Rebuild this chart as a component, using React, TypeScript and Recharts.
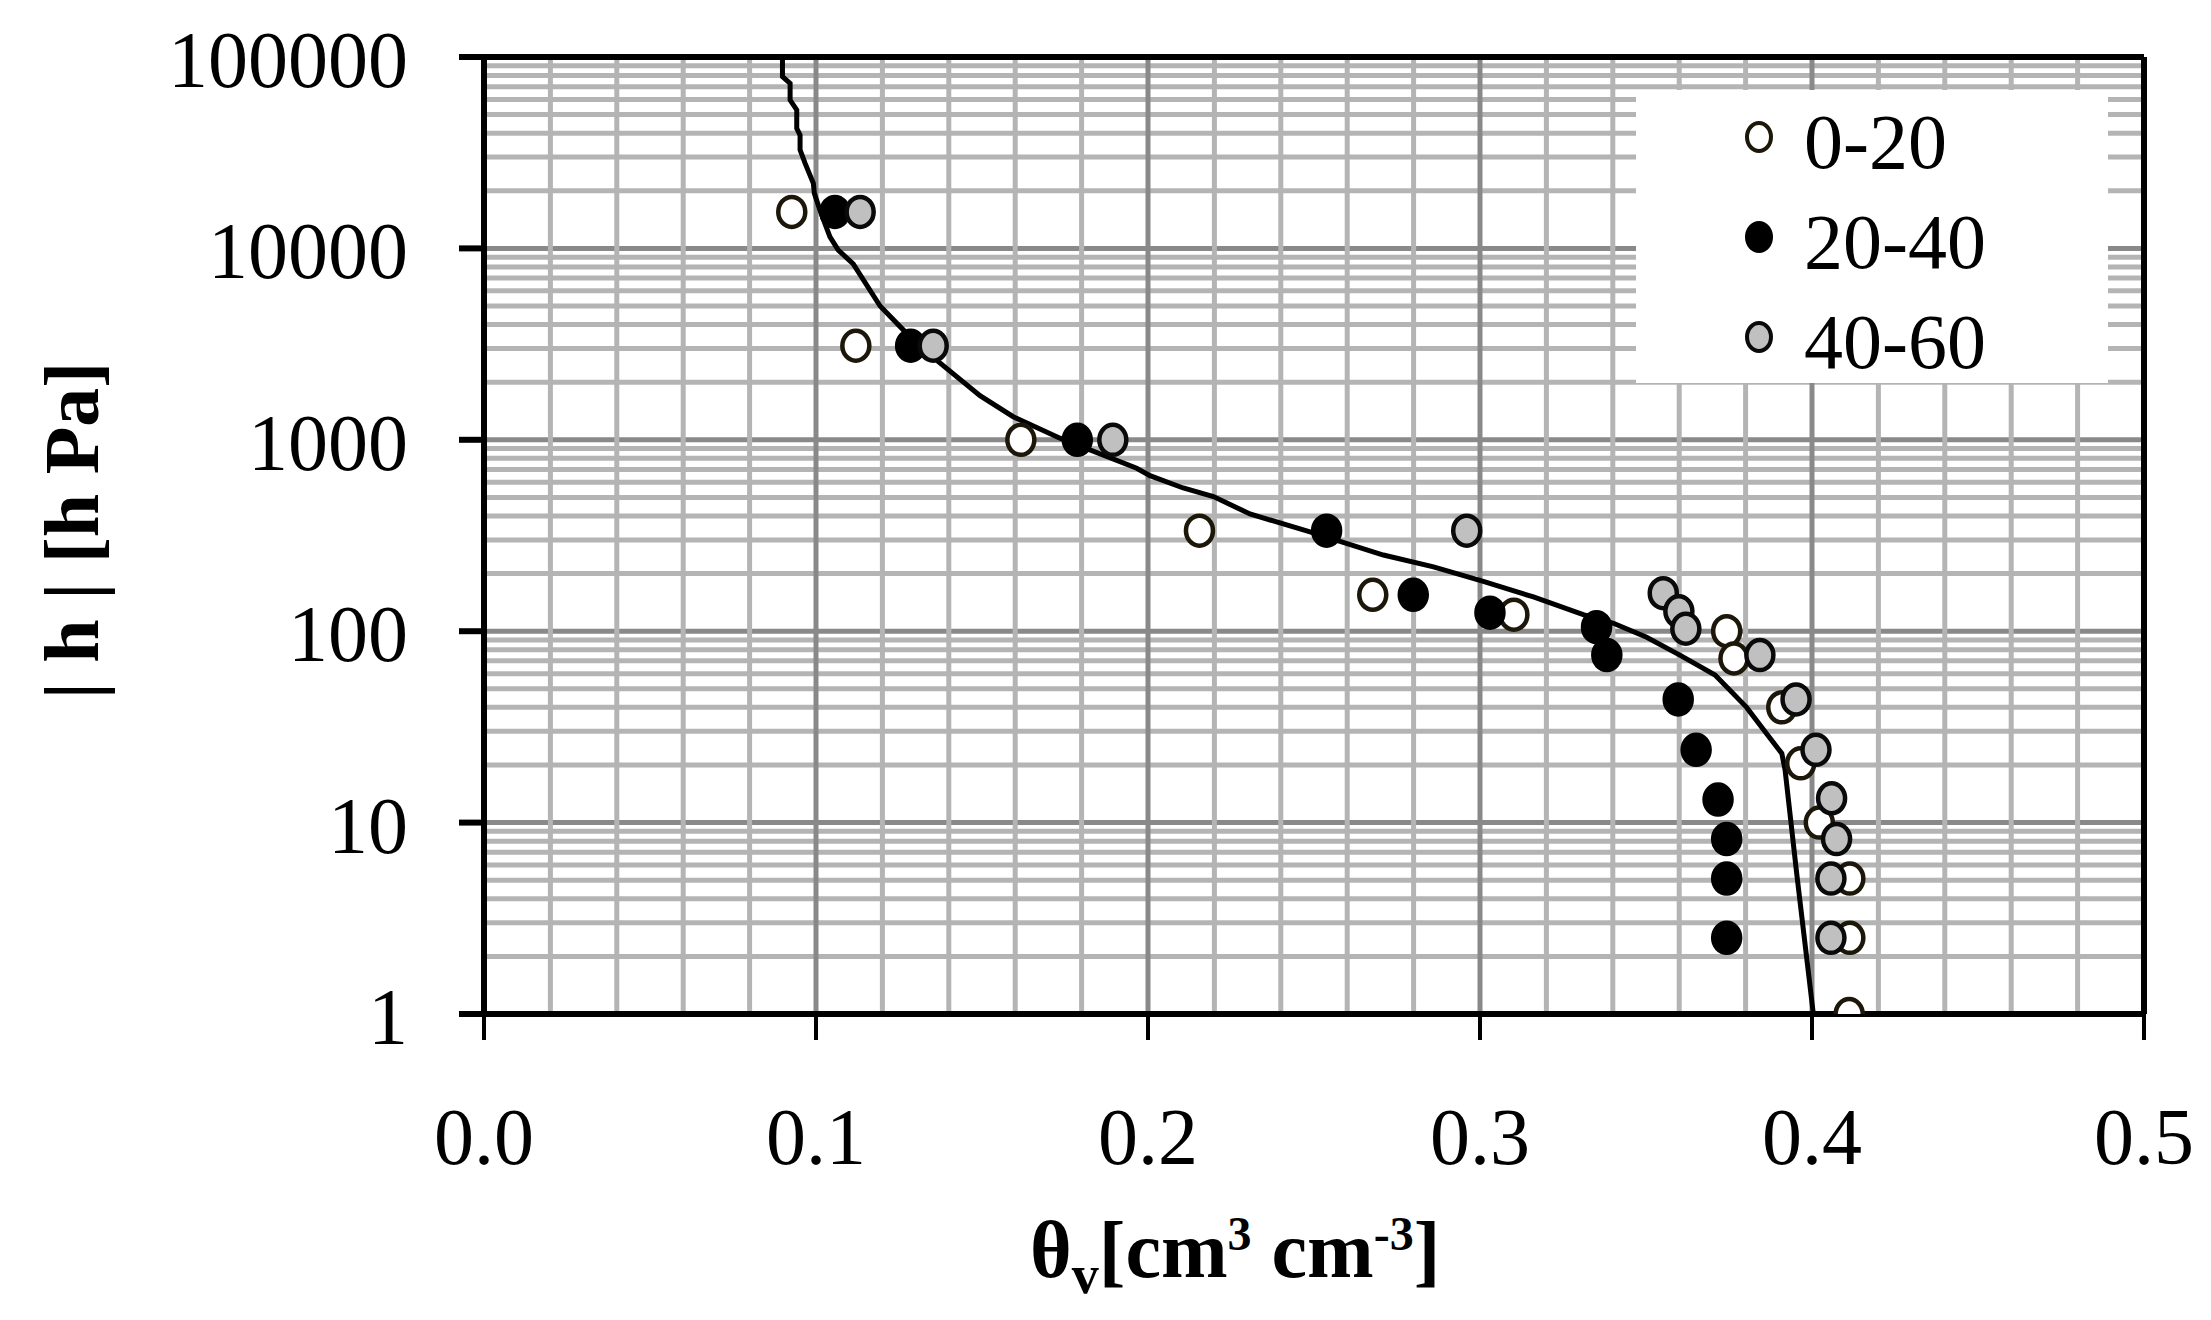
import React from 'react';
import { ComposedChart, Scatter, Line, XAxis, YAxis, CartesianGrid, ReferenceLine, Legend } from 'recharts';

// soil depth layers (cm)
const layerNames = ['0-20', '20-40', '40-60'];

// measured points: volumetric water content and |h| in hPa
const theta0to20 = [0.0927, 0.112, 0.1617, 0.2155, 0.2677, 0.3102, 0.3743, 0.3765, 0.3909, 0.3966, 0.4022, 0.4114, 0.4114, 0.4112];
const h0to20 = [15500, 3100, 1000, 335, 155, 122, 100, 72, 40, 20.4, 10, 5.1, 2.5, 1];

const theta20to40 = [0.1057, 0.1285, 0.1787, 0.2538, 0.2799, 0.303, 0.3351, 0.3382, 0.3597, 0.3651, 0.3717, 0.3743, 0.3743, 0.3743];
const h20to40 = [15500, 3100, 1000, 335, 155, 125, 105, 75, 44, 24, 13.2, 8.2, 5.1, 2.5];

const theta40to60 = [0.1133, 0.1353, 0.1894, 0.296, 0.3552, 0.3599, 0.362, 0.3843, 0.3952, 0.4012, 0.4059, 0.4074, 0.4057, 0.4057];
const h40to60 = [15500, 3100, 1000, 335, 158, 127, 103, 75, 44, 24, 13.4, 8.2, 5.1, 2.5];

// fitted retention curve
const fitTheta = [0.0899, 0.0899, 0.0922, 0.0922, 0.0942, 0.0942, 0.0952, 0.0952, 0.0967, 0.0992, 0.0995, 0.1012, 0.1042, 0.1067, 0.1112, 0.1193, 0.1273, 0.1364, 0.1494, 0.1594, 0.1735, 0.1966, 0.2006, 0.2106, 0.2197, 0.2307, 0.2488, 0.2709, 0.286, 0.301, 0.3161, 0.3311, 0.3402, 0.3502, 0.3602, 0.3708, 0.3803, 0.3864, 0.3909, 0.3919, 0.3954, 0.4004];
const fitH = [100000, 78900, 72800, 59600, 52900, 42400, 39100, 32700, 27900, 21900, 19400, 15800, 11500, 9800, 8300, 5000, 3600, 2600, 1700, 1320, 1020, 710, 650, 560, 505, 410, 330, 250, 217, 182, 151, 122, 110, 93, 75, 59, 40, 29, 23, 18.8, 5.4, 1];

const xTicks = [0, 0.1, 0.2, 0.3, 0.4, 0.5];
const yTicks = [1, 10, 100, 1000, 10000, 100000];

const toPoints = (t: number[], h: number[]) => t.map((theta, i) => ({ theta, h: h[i] }));

const xMajorGrid = [0.1, 0.2, 0.3, 0.4];
const xMinorGrid = [0.02, 0.04, 0.06, 0.08, 0.12, 0.14, 0.16, 0.18, 0.22, 0.24, 0.26, 0.28, 0.32, 0.34, 0.36, 0.38, 0.42, 0.44, 0.46, 0.48];
const yMajorGrid = [10, 100, 1000, 10000];
const yMinorGrid = [1, 10, 100, 1000, 10000].flatMap((d) => [2, 3, 4, 5, 6, 7, 8, 9].map((m) => m * d));

const SERIF = 'Liberation Serif, Times New Roman, serif';
const LIGHT = '#b4b4b4';
const DARK = '#898989';

const markerStyles = [
  { fill: '#ffffff', stroke: '#1c1709' },
  { fill: '#000000', stroke: '#000000' },
  { fill: '#c0c0c0', stroke: '#0a0a0a' },
];

const makeMarker = (fill: string, stroke: string) => (props: any) => {
  const { cx, cy } = props;
  if (cx == null || cy == null) return <g />;
  return <ellipse cx={cx} cy={cy} rx={13.5} ry={15} fill={fill} stroke={stroke} strokeWidth={4.5} />;
};

const XTick = ({ x, y, payload }: any) => (
  <text x={x} y={y} dy={124} textAnchor="middle" fontFamily={SERIF} fontSize={80} fill="#000">
    {Number(payload.value).toFixed(1)}
  </text>
);

const YTick = ({ x, y, payload }: any) => (
  <text x={x} y={y} dx={-51} dy={30} textAnchor="end" fontFamily={SERIF} fontSize={80} fill="#000">
    {payload.value}
  </text>
);

const XTitle = ({ viewBox }: any) => {
  const x0 = viewBox.x + viewBox.width / 2 - 284;
  const base = viewBox.y + 263;
  return (
    <text x={x0} y={base} fontFamily={SERIF} fontWeight="bold" fontSize={80} fill="#000">
      <tspan>θ</tspan>
      <tspan fontSize={54} dy={16}>v</tspan>
      <tspan dy={-16}>[cm</tspan>
      <tspan fontSize={48} dy={-27}>3</tspan>
      <tspan dy={27}> cm</tspan>
      <tspan fontSize={48} dy={-27}>-3</tspan>
      <tspan dy={27}>]</tspan>
    </text>
  );
};

const YTitle = ({ viewBox }: any) => {
  const cx = viewBox.x + 98;
  const cy = viewBox.y + viewBox.height / 2 - 5;
  return (
    <text
      x={cx}
      y={cy}
      transform={`rotate(-90, ${cx}, ${cy})`}
      textAnchor="middle"
      fontFamily={SERIF}
      fontWeight="bold"
      fontSize={78}
      fill="#000"
      xmlSpace="preserve"
    >
      | h | [h Pa]
    </text>
  );
};

const LegendBox = () => (
  <svg width={472} height={310} style={{ display: 'block', overflow: 'visible' }}>
    <rect x={0} y={0} width={472} height={293} fill="#fff" />
    {layerNames.map((name, i) => (
      <g key={name}>
        <ellipse cx={123} cy={47 + i * 100} rx={12} ry={14} fill={markerStyles[i].fill} stroke={markerStyles[i].stroke} strokeWidth={4} />
        <text x={168} y={78 + i * 100} fontFamily={SERIF} fontSize={78} fill="#000">
          {name}
        </text>
      </g>
    ))}
  </svg>
);

export default function App() {
  const layers = [
    toPoints(theta0to20, h0to20),
    toPoints(theta20to40, h20to40),
    toPoints(theta40to60, h40to60),
  ];
  const fit = toPoints(fitTheta, fitH);

  return (
    <div style={{ position: 'absolute', left: 0, top: 0, width: 2211, height: 1320, background: '#fff' }}>
      <ComposedChart width={2211} height={1320} margin={{ top: 57, right: 67, bottom: 156, left: 0 }}>
        <CartesianGrid vertical={false} horizontalValues={yMinorGrid} stroke={LIGHT} strokeWidth={5} />
        <CartesianGrid vertical={false} horizontalValues={yMajorGrid} stroke={DARK} strokeWidth={5} />
        <CartesianGrid horizontal={false} verticalValues={xMinorGrid} stroke={LIGHT} strokeWidth={5} />
        <CartesianGrid horizontal={false} verticalValues={xMajorGrid} stroke={DARK} strokeWidth={5} />
        <XAxis
          type="number"
          dataKey="theta"
          domain={[0, 0.5]}
          ticks={xTicks}
          interval={0}
          height={150}
          tickSize={26}
          tickMargin={0}
          tick={<XTick />}
          tickLine={{ stroke: '#000', strokeWidth: 4 }}
          axisLine={{ stroke: '#000', strokeWidth: 6 }}
          label={{ content: <XTitle /> }}
        />
        <YAxis
          type="number"
          dataKey="h"
          scale="log"
          domain={[1, 100000]}
          allowDataOverflow
          ticks={yTicks}
          interval={0}
          width={484}
          tickSize={25}
          tickMargin={0}
          tick={<YTick />}
          tickLine={{ stroke: '#000', strokeWidth: 6 }}
          axisLine={{ stroke: '#000', strokeWidth: 6 }}
          label={{ content: <YTitle /> }}
        />
        <ReferenceLine y={100000} stroke="#000" strokeWidth={6} />
        <ReferenceLine x={0.5} stroke="#000" strokeWidth={6} />
        {layers.map((pts, i) => (
          <Scatter
            key={layerNames[i]}
            name={layerNames[i]}
            data={pts}
            shape={makeMarker(markerStyles[i].fill, markerStyles[i].stroke)}
            isAnimationActive={false}
          />
        ))}
        <Line
          data={fit}
          dataKey="h"
          type="linear"
          stroke="#000"
          strokeWidth={5}
          dot={false}
          activeDot={false}
          legendType="none"
          isAnimationActive={false}
        />
        <Legend
          layout="vertical"
          align="center"
          verticalAlign="middle"
          wrapperStyle={{ left: 1636, top: 90, width: 472, height: 310, margin: 0, padding: 0 }}
          content={<LegendBox />}
        />
      </ComposedChart>
    </div>
  );
}
